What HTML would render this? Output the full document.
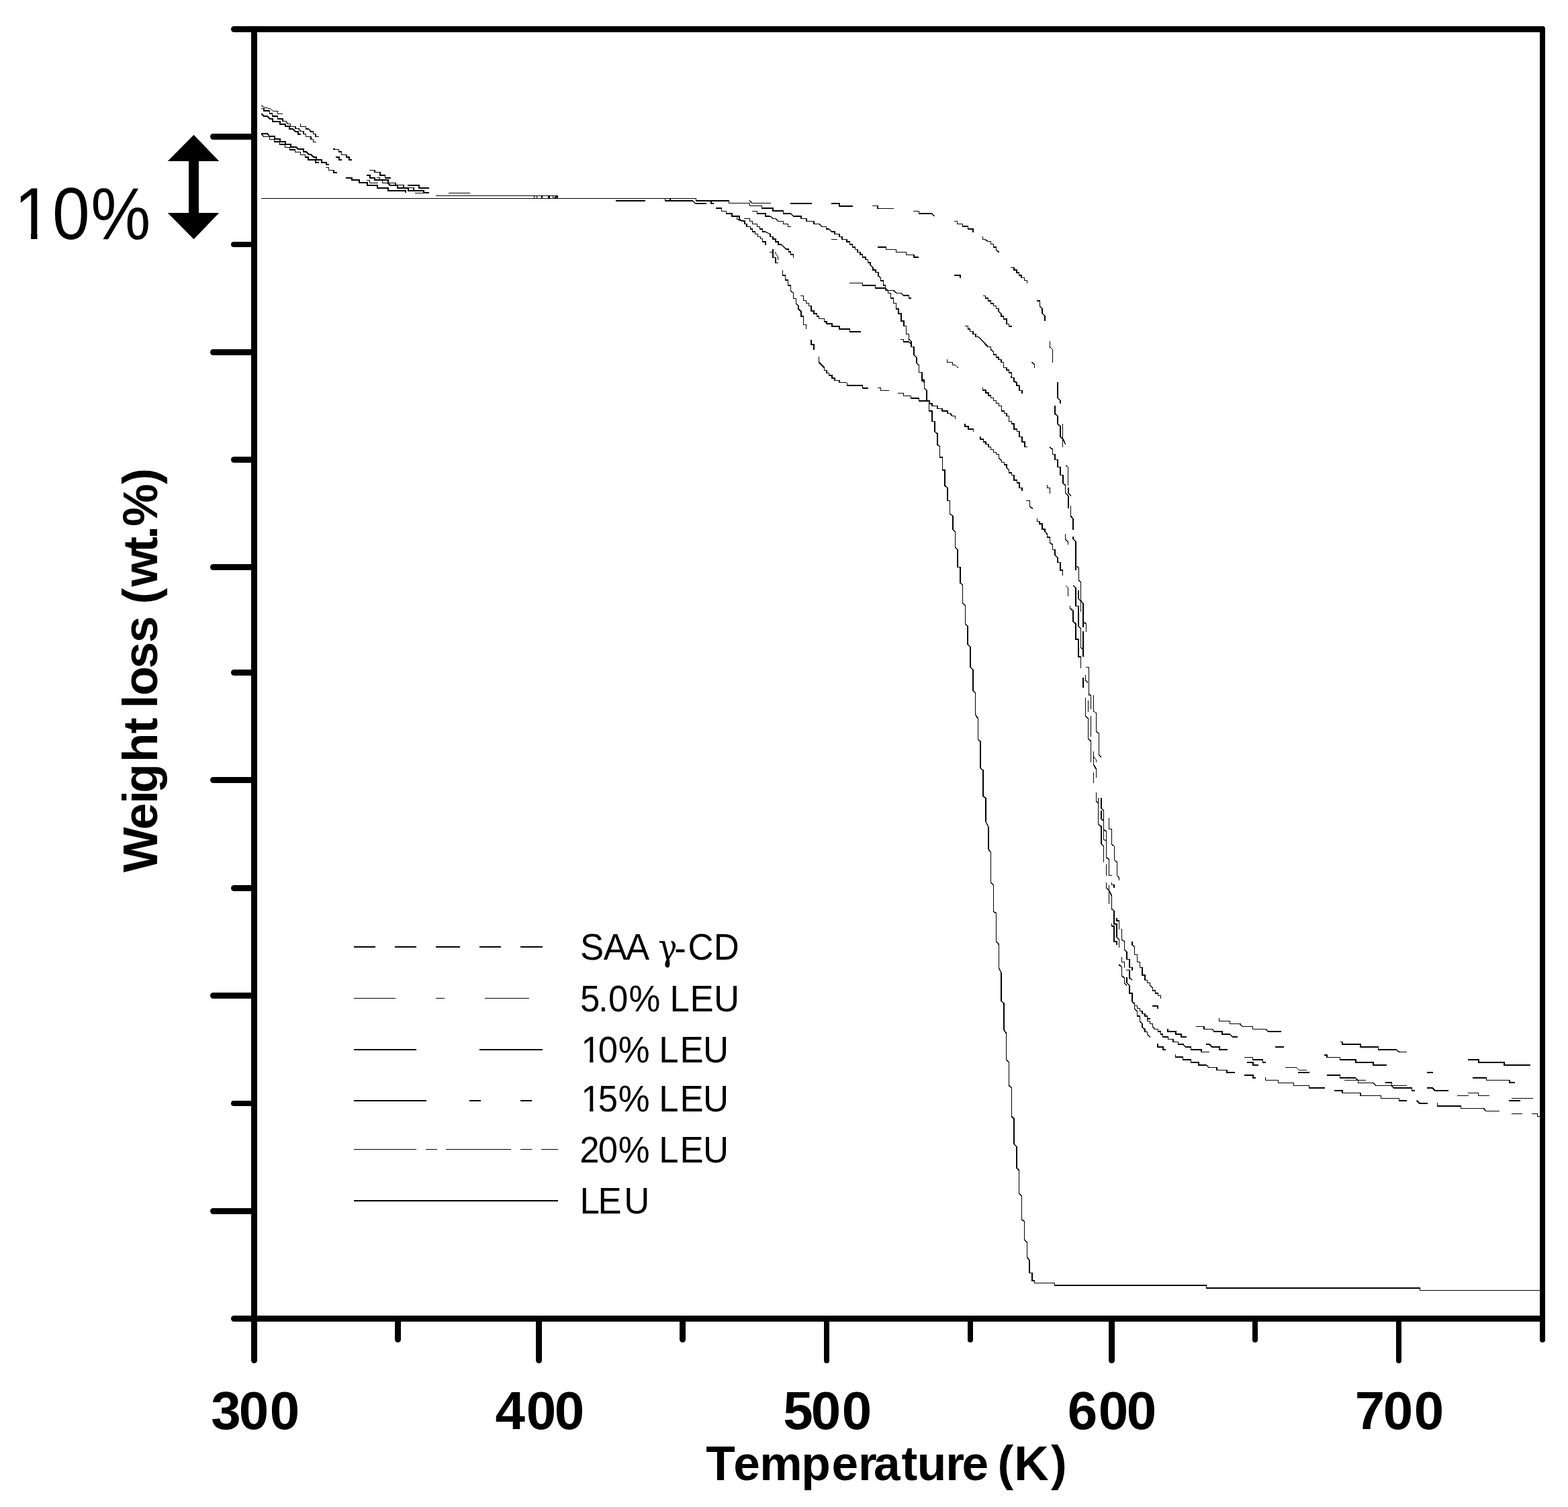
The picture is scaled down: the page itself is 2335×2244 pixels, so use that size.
<!DOCTYPE html>
<html lang="en">
<head>
<meta charset="utf-8">
<title>TGA weight loss curves</title>
<style>
html,body{margin:0;padding:0;background:#fff;}
body{width:2335px;height:2244px;overflow:hidden;}
svg{display:block;}
</style>
</head>
<body>
<svg width="2335" height="2244" viewBox="0 0 2335 2244" role="img" aria-label="Thermogravimetric weight loss curves versus temperature">
<rect width="2335" height="2244" fill="#fff"/>
<g stroke="#000" stroke-linecap="round" fill="none">
<path stroke-width="9" d="M348.5 43.5H2296.5"/>
<path stroke-width="9" d="M348.5 1963.5H2296.5"/>
<path stroke-width="9" d="M378.5 43.5V2025.5"/>
<path stroke-width="8" d="M2297 43V1995"/>
<path stroke-width="9" d="M317.5 203.5H378.5"/>
<path stroke-width="8" d="M348 364H378.5"/>
<path stroke-width="9" d="M317.5 524.5H378.5"/>
<path stroke-width="9" d="M348.5 684.5H378.5"/>
<path stroke-width="9" d="M317.5 844.5H378.5"/>
<path stroke-width="9" d="M348.5 1001.5H378.5"/>
<path stroke-width="9" d="M317.5 1161.5H378.5"/>
<path stroke-width="9" d="M348.5 1322.5H378.5"/>
<path stroke-width="9" d="M317.5 1482.5H378.5"/>
<path stroke-width="8" d="M348 1643H378.5"/>
<path stroke-width="9" d="M317.5 1803.5H378.5"/>
<path stroke-width="9" d="M592.5 1963.5V1994.5"/>
<path stroke-width="9" d="M802.5 1963.5V2025.5"/>
<path stroke-width="9" d="M1016.5 1963.5V1994.5"/>
<path stroke-width="8" d="M1231 1963.5V2026"/>
<path stroke-width="8" d="M1445 1963.5V1995"/>
<path stroke-width="9" d="M1655.5 1963.5V2025.5"/>
<path stroke-width="8" d="M1869 1963.5V1995"/>
<path stroke-width="8" d="M2083 1963.5V2026"/>
</g>
<path d="M288.5 200.8L326.3 240H296V317H326.3L288.5 356.3L249.7 317H281V240H249.7Z" fill="#000"/>
<g font-family="'Liberation Sans', sans-serif" fill="#000">
<text transform="translate(0 356.2) scale(0.9100 1)" x="23.28 85.73 148.73" y="0" font-size="110">10%</text>
<text transform="translate(0 2128.2) scale(1.0100 1)" x="311.22 352.29 397.79" y="0" font-size="79.2" font-weight="bold">300</text>
<text transform="translate(0 2128.2) scale(1.0100 1)" x="730.11 775.96 817.64" y="0" font-size="79.2" font-weight="bold">400</text>
<text transform="translate(0 2128.2) scale(1.0100 1)" x="1154.59 1195.86 1241.40" y="0" font-size="79.2" font-weight="bold">500</text>
<text transform="translate(0 2128.2) scale(1.0100 1)" x="1574.05 1619.62 1661.10" y="0" font-size="79.2" font-weight="bold">600</text>
<text transform="translate(0 2128.2) scale(1.0100 1)" x="1997.77 2039.47 2084.97" y="0" font-size="79.2" font-weight="bold">700</text>
<text transform="translate(0 2204) scale(0.9800 1)" x="1072.68 1114.66 1154.32 1217.61 1263.89 1304.16 1327.52 1369.88 1393.60 1437.07 1461.80 1502.23 1515.71 1541.14 1597.02" y="0" font-size="72.7" font-weight="bold">Temperature (K)</text>
<text transform="translate(234 1299.8) rotate(-90) scale(0.9800 1)" x="0.74 65.63 105.14 121.59 168.28 211.82 236.03 249.99 269.43 310.51 349.89 390.33 408.52 434.92 486.82 507.18 526.71 590.74" y="0" font-size="72.7" font-weight="bold">Weight loss (wt.%)</text>
<text transform="translate(0 1429) scale(0.9550 1)" x="904.80 941.02 975.88 1012.70" y="0" font-size="55.2">SAA </text>
<text transform="translate(980.19 1429.80) scale(0.8820 1)" font-family="'DejaVu Serif', 'Liberation Serif', serif" font-size="53.57">γ</text>
<text transform="translate(0 1430.6) scale(0.9550 1)" x="1051.54" y="0" font-size="55.2">-</text>
<text transform="translate(0 1429) scale(0.9550 1)" x="1072.70 1112.84" y="0" font-size="55.2">CD</text>
<text transform="translate(0 1505.7) scale(0.9550 1)" x="904.65 933.06 948.63 980.69 1029.78 1044.51 1075.85 1113.16" y="0" font-size="55.2">5.0% LEU</text>
<text transform="translate(0 1581.7) scale(0.9550 1)" x="905.95 932.77 964.10 1013.18 1027.60 1060.15 1096.40" y="0" font-size="55.2">10% LEU</text>
<text transform="translate(0 1654.8) scale(0.9550 1)" x="905.95 932.82 964.10 1013.18 1027.60 1060.15 1096.40" y="0" font-size="55.2">15% LEU</text>
<text transform="translate(0 1730.8) scale(0.9550 1)" x="904.02 932.77 964.10 1013.18 1027.60 1060.15 1096.40" y="0" font-size="55.2">20% LEU</text>
<text transform="translate(0 1806.8) scale(0.9550 1)" x="904.24 932.40 972.95" y="0" font-size="55.2">LEU</text>
</g>
<rect x="27.81" y="345.98" width="18.25" height="11.72" fill="#fff"/><rect x="55.50" y="345.98" width="17.46" height="11.72" fill="#fff"/>
<rect x="868.20" y="1575.58" width="9.94" height="7.62" fill="#fff"/><rect x="883.40" y="1575.58" width="9.53" height="7.62" fill="#fff"/>
<rect x="868.20" y="1648.68" width="9.94" height="7.62" fill="#fff"/><rect x="883.40" y="1648.68" width="9.53" height="7.62" fill="#fff"/>
<g stroke="#000" fill="none" shape-rendering="crispEdges">
<path d="M527 1410H559M588 1410H620M649 1410H685M714 1410H746M775 1410H808" stroke-width="2"/>
<path d="M527 1486.5H589M649 1486.5H662M722 1486.5H788" stroke-width="1"/>
<path d="M527 1563H620M714 1563H808" stroke-width="2"/>
<path d="M527 1639H635M699 1639H716M775 1639H792" stroke-width="2"/>
<path d="M527 1711.5H620M634 1711.5H651M664 1711.5H761M775 1711.5H792M806 1711.5H831" stroke-width="1"/>
<path d="M527 1788H831" stroke-width="2"/>
</g>
<g fill="none" stroke="#000" stroke-linecap="butt" stroke-linejoin="miter" shape-rendering="crispEdges">
<path stroke-width="1" d="M389 157.2L394.7 160.5L402 161.3L406.1 165H413.5V169.5H420.8M545.9 268.4H550.5V272.4H562.8M618.4 287.4H638.8M649 291.5H831M795.5 291V296M799.5 291V296M823.5 291V296M668 287.5H700M990.5 295V300M1145.9 375.5H1151M1154.1 375.5L1158.8 383.3V387.3M1238.2 356.3H1246.9M1410.4 535.1V539.6H1418.2V543.3H1422.2L1426.7 547.3M1536.5 539.2L1540.6 543.3V547.8M1582.7 631V665.5M1586.7 692.7L1590.8 695.7V723.3M1559.6 722.2V726.3H1563.3V734.5M1586.3 795.1V802.9L1590.4 806.9V810.6M1602 842.1L1606 845.3V863.6L1609.6 867.3V910.6M1586.6 871.6L1590.5 875.2V887.5M1628.8 1034.8V1059.5L1632.7 1061.8V1080M1624.3 1065.8V1080M1624.6 1070V1097.1M1628.6 1127.3L1632.5 1131.3V1135.3M1628.6 1150.4V1166.3M1651.7 1218.1V1234H1655.6V1257.1L1659.1 1260.3V1280.2L1663.1 1283.4V1303.3L1666.8 1307.3V1311.2M1647.7 1287.4V1303.8M1651.7 1318.4V1345.5M1670.5 1425.2V1432.4H1674.6V1440.6M1884.3 1604.3V1608.8H1903.4V1612.6H1920M1914.3 1589.4H1930.6L1934.3 1593.5H1945.9M2002 1608.6H2033.7M2170.4 1631.6H2186.7M2186.3 1627.6H2201.6V1631.6H2217.8M2251 1635.3H2283.1M2251 1658.6H2266.9M2281.2 1658.6H2289.8V1662.2H2292.9"/>
<path stroke-width="1.2" d="M1563.5 508.2V516.7L1567.6 520.4V539.6M1307.1 577.3H1311.2V581.4H1323.9M1918.4 1612.7H1926.5V1616.3H1949.6V1620H1972.9"/>
<path stroke-width="1.5" d="M389 161.3H393.1V165H401.6V169.1H405.7V173.2H413.5V176.8H420.8V180.5H425.7L429 184.6H432.7V188.3H440V191.5H444.5L448.2 195.6H451.8V199.3H455.5V203.4H462.9V207.4H466.5V211.5H471M447.3 184.2V188.3H455.5V191.9H459.2L462.9 196H466.5V199.7H470.2V203.4H474.7M389 199.3L393.1 203.4H401.6V207.4H408.6V211.1H416.7V215.2H424.5V219.3H431.4V223H439.6V226.6H447.3V230.3H454.3V234H458.8V238.1H469.8V242.1H474.7M485.3 249.5H489.4V253.6H497.1V257.2H501.6M495.9 222.1L504.5 222.6V226.2H508.6V230.3H515.9V234H520V238.1H523.7M550 253.3H558.2V256.6H565.8V260.9H573.7V265H581.6M561.2 264.5H565.3V268.1H569.4V272.4H588.8V275.7H601V279.3H615.8V282.9M1066.3 310.2H1074.5V314.3H1081.6V318H1089.8V322H1101V326.1L1105.1 329.2H1109.2V333.3H1112.2V337.3H1117.3V341H1120.4V345.1H1124.5V348.6H1128.6V352.7H1132.7V355.7H1135.7V359.8H1139.8V364.9M1097.6 322V326.1L1105.1 329.2M1108.2 325.5H1116.3V329.6H1120.4V333.3H1127.6V337.3H1131.6V341H1135.7V345.1H1139.8L1146.9 348.6V352.7H1151V356.1H1155.1V359.8H1159.2V363.9H1163.3L1170.4 371H1174.5V375.1H1177.6V379.2H1181.6V383.9M1120.4 314.3H1127.6V318H1139.8V322H1146.9L1151 325.5H1155.1L1159.2 329.6H1166.3V333.3H1173.5V337.3H1177.6M1116.3 298.6L1120.4 302.7H1148M1299 306.7H1307.1V310.4H1330.6M1360.2 314.5H1368.4V318H1387.8L1391.4 322M1151 371.4V383.3H1155.1V391.4H1158.8M1165.7 401.6V409.8H1169.4V416.9H1173.5V425.1H1177.6V433.3L1181.6 436.3V444.5H1185.7V452.2L1188.8 455.7V459.8L1192.9 463.9V471H1196.5V483.3H1200.6V490.4M1192.2 440.4H1196.5V447.6H1200.6V451.6H1204.7V455.7H1208.2V462.9H1212.2V466.9H1216.3V471H1219.4V474.7H1227.6V478.8H1231.2V482.2H1238.8V485.9H1250V490H1265.3V493.9H1281.6M1219.4 531.2V539.4L1223.5 543.5L1227.6 547.6V551.6H1231.2V555.3H1234.7V558.8H1238.8V562.9H1242.9V566.3H1250V569.6H1261.2M1307.1 368H1319.4V371.4H1334.7V375.5H1349.4V379.6H1360.8V382.9H1368.4M1265.3 421.4H1284.3V425.1H1303.7V428.8H1318.4L1322.4 432.7H1330.6L1334.7 436.3H1341.8L1345.5 440H1353.7V443.9H1357.1M1341.2 505.7H1345.5V508.8H1353.1L1357.1 512.9M1421.2 329.4H1425.3V333.5H1433.5V337.1H1441.6V340.8H1449.2V345.7M1463.5 352V356.5H1467.1L1471.2 359.6H1475.3V363.7H1479.4V367.8H1483.5V371.8L1487.6 375.5M1505.3 398.4H1510V402H1514.1V405.9H1517.6V410H1521.2V413.7H1525.3V417.3H1529.4V421.8M1544.3 447.8H1548.4V455.5L1551.8 459.2V466.7L1555.9 470.8V478.4M1463.5 440.6H1467.6V443.9H1471.6V448H1475.7V452H1479.4V455.5H1483.5V459.6H1486.9V463.7L1491 467.3V471.2H1494.7V474.9H1498.8V482.4H1502.4V486.1H1506.9M1437.1 485.7H1441.6V489.8H1444.7V493.7H1448.8V497.3H1452.9V501.4H1456.9L1471.2 516.3H1475.3V520.4L1479.4 523.9V528H1483.5V532H1486.9V535.5H1491V539.6H1494.7V547.3H1498.8V551H1502.4V554.9H1506.3V562.7H1510V566.7L1514.1 569.8V573.9H1517.6V580M1261.6 569.8V573.9H1284.7V578H1292.9M1337.1 585.5H1345.3V589.6H1356.7V593.1H1368.4V597.1H1384.7V600.8H1388.2V604.5H1395.9V608.6H1403.1V612H1410.8V615.5H1414.7L1418.4 619.6H1422.4V623.7M1437.1 631.4V634.9H1441.8V639H1449.4V642.7M1460.2 650.4V653.9H1464.3V658H1468V661.4H1472V665.5H1475.5V669.6H1479.6V673.3H1483.7V676.7H1487.3V681.4L1491.4 685.5V688.6H1495.3V692.2H1499V696.3L1502.7 699.8V703.9H1506.7V707.6H1510.2V715.1H1514.3V718.8H1518V726.3H1521.8V730.8M1463.3 577.3V581H1468V585.1H1472V589.2H1475.5V592.7H1479.6V596.7H1483.7V600.4H1487.3V604.3H1491.4V612H1495.3V615.5H1499V619.6H1502.7V627.3H1506.7V631H1510.2V639H1514.3V642.7H1518V650.4H1521.8V658H1525.9V665.5H1530M1505.5 560V562.4H1510.2V568.2L1514.3 570.2V574.3H1518V581.4H1521.8V585.9M1575.1 569.2V592.7L1579.2 596.7V600.8M1571 604.3V616.1L1575.1 619.6V631.4L1579.2 634.9V650.4L1583.1 653.9L1586.7 662M1563.3 665.5L1567.3 669.2V676.7H1571V684.5H1575.1V695.7H1579.2V707.6H1583.1V719.2L1586.7 722.7V734.5L1590.8 738V757.3M1590.8 726.3V734.5L1594.9 738.6M1528.2 745.7H1533.7V753.9L1537.8 757.6M1544.5 772.2V776.3H1548V780H1552V788.2H1556.1V791.6L1559.6 795.7V799.8H1563.3V808L1567.3 811V818.6H1571V826.3L1575.1 830.4V837.6H1579.2V848.8H1582.7V856.9M1594.3 752.9V768.2L1598 772.2V788.6M1598 799.1V802.3L1602 806.3V849.3M1598 871.6L1602 875.2V902.3H1606V932.9L1609.6 936.1V963.9L1613.2 967.1M1606 879V891.5L1609.6 894.6L1613.2 898.6V933.7M1613.2 926.5L1617.5 928.9V940.5M1593.7 902.3V905.8L1598 909.8V925.2L1602 928.9V952H1606V978.2H1609.6V994.5M1613.2 940V978.2M1616.7 993.4H1621.4V1036.4M1616.7 1004.5V1013.3L1620.3 1016.5M1612.8 1009.3V1024.4M1621.4 1033.2L1624.3 1035.6V1056.3M1616.7 1039.2V1065.8L1620.6 1069.8V1080M1620.6 1042.7V1059.5M1620.6 1070V1100.3L1624.6 1103.4V1135.3M1632.5 1070V1089.1L1636.5 1092.3V1124.1L1640.2 1127.3M1628.6 1119.4V1138.5L1632.5 1145.6V1158.4M1632.5 1179.9V1192.6L1635.7 1195.8V1227.6L1640.2 1230.8V1257.1L1643.7 1260.3V1284.2M1640.2 1188.2V1203.8L1643.7 1206.9V1235.6L1647.7 1238V1277L1651.7 1280.2V1303.3H1655.6M1635.7 1188.2V1195.8M1640.2 1206.9V1219.7L1643.7 1222.1M1643.7 1235.6V1249.9L1647.7 1252.3M1647.7 1313.6V1322.4L1651.7 1326.4L1655.6 1334.3V1353.4L1659.1 1356.6V1370M1655.6 1313.6V1317.6H1659.1V1322.4M1655.4 1340V1353.5L1659 1356.7V1375.8H1663V1395.7L1666.5 1398.9V1410.9M1663 1367.1V1371.1H1666.5V1383.8M1655.4 1375.4V1379H1659V1402.1H1663V1406.9M1670.5 1383V1398.9L1674.6 1402.1V1414.5L1678.1 1417.7V1428.4H1682.1V1440.3H1686.1V1444.8M1685.8 1402.1V1406.9L1689.6 1410.1V1421.5H1693.6V1432.4H1697.5V1440.3H1701.2V1451.9H1705.2V1459.7H1708.7V1463.4H1712.7V1467.4L1716.3 1470.9V1474.9H1720.3V1478.9H1724.3V1482.5H1728.3V1486.8M1666.2 1436.3L1670.5 1440.3V1453.1L1674.6 1456.2V1464.2L1678.1 1467.4M1677.3 1444.3H1682.1V1456.2L1686.1 1459.7M1678.1 1455V1463.4L1682.1 1467.4V1478.9H1686.1V1491.3L1689.6 1494.5V1502.4L1693.6 1505.6V1513.1H1697.5V1521.5L1701.2 1524.7V1529.5L1705.2 1533V1536.7H1708.7V1540.6L1712.7 1544.3M1689.6 1497.6H1693.6V1501.6H1697.5V1505.3H1701.2V1509.3H1705.2V1513.1H1708.7V1516.8H1712.7M1708.7 1516.8V1520.7H1712.7V1524.7H1716.3V1528.7L1719.5 1532.4H1724.3V1536.2H1728.3V1540.2H1731.5V1543.8H1739.4V1547.5H1746.9V1551.5H1754.6V1555H1762L1765.7 1558.9H1773.7V1562.9H1789.1V1566.4H1800.7M1750.6 1570.1V1574.1H1761.7V1578.1H1773.7V1582H1785.1V1586H1796.8L1800.4 1589.5H1811.9V1593.5H1827V1597.2H1838.9M1781.1 1528.4H1792.8V1532.4H1804.7L1807.9 1535.9H1819.8V1540.2H1831.3L1835 1543.8H1842.6M1815.5 1516V1520.7H1831.3V1524.4H1846.4L1850.1 1528.4H1865.5V1532.4H1884.6L1888.3 1535.9H1907.9M1853.3 1574.4H1865.5V1578.1H1880.7V1582H1885.1M1995.5 1551.4H1999V1555.1H2026.1V1559.2H2052.7V1562.9H2079.6L2083.3 1566.3H2094.9M1972.4 1570.8H1975.9V1574.5H1995.5V1578.2H2018.8V1582.2H2044.9V1586.1H2064.9M1975.5 1601H1995.5V1605.1H2018.8L2022.4 1608.6V1612.7H2045.3L2049 1616.3H2094.9M2063.3 1612.2H2072.4V1616.3L2075.5 1620H2102.7V1624.1H2106.7M1987.3 1623.9H1999V1627.6H2026.1V1631.6H2056.7V1635.3H2083.3V1639.2H2094.9M2140.4 1642.4V1646.9H2175.5V1650.6H2209.6L2213.3 1654.5H2232.7M2193.3 1605.1H2213.3V1608.6H2248V1612.2H2256.1"/>
<path stroke-width="2" d="M389 169.5L393.5 173.2H398.4L401.6 176.8H405.7V180.9H416.7V184.6H424.5V188.3H431.4V191.9H436.3L439.6 196H443.7V200.1H447.8M389 199.3H398.8L401.6 203.4H409.4V207.4H416.7V211.1H424.5V214.8H432.7V218.5H440.4L444.1 222.1H451.8V226.2H456.3L460 230.3H463.3L466.9 233.6H470.6V237.7H478.8V241.7H485.7V245.4H489.8M500 233.6H504.5V238.1H508.6M515.3 264.5H523.5V268.1H535.2V272.4H546.9V275.9H562.2V279.8H577.6V283.9H604.1V287.4M545.9 260.9H550.5V265H558.2V268.1H577.6V272.7L580.6 275.9H592.3V280.3H607.7V284.1H630.6V287.4H638.8M607.1 275.7H623.5V280H638.8M807 291V296M825 295.5L829.5 291.5M830 291V296M917 299H961M990 299H1031.5L1035.5 303H1052M998 295V299M1059 300V303H1063M1177.1 302.7H1208.6M1238.2 302.7H1250V307.1H1269.8M1207.8 505.7V512.9H1212.2V520.6M1421.2 409.6H1430.4V413.7M1716.3 1497.6H1724.3V1502.4M1739.4 1532.4V1535.9H1750.9V1539.8H1758.5V1543.8H1766.5M1723.5 1554.2V1558.9H1731.5V1562.9H1735.8M1796 1555H1800.7L1804.7 1558.9H1815.9V1562.9H1827.8M1899 1558.9H1911.9M1857.3 1582H1865.5V1586H1874M1853.3 1601.1H1865.5V1605.1H1870M1933.3 1596.9H1950M2109.6 1638.8L2113.7 1642.9H2125.5M2124.5 1596.9H2133.7M2124.5 1620H2133.1L2136.7 1623.9H2156.7M2186.3 1578.2H2201.6V1582.2H2240.2V1586.1H2279M2247.3 1639.2H2263.9"/>
<path stroke-width="3" d="M817.5 291V296"/>
<path stroke-width="1.5" d="M1085.7 298.6V302.7H1116.3V306.7H1134.7V310.2H1151V313.9H1166.3V318H1177.6L1181.6 322H1192.9V325.5H1201V329.6H1212.2V333.3H1219.4L1223.5 337.3H1230.6V341H1234.7L1238.8 345.1H1242.9V348.6H1250V352.7H1254.1V356.7H1261.2V359.8H1265.3V363.9H1269.4V368H1273.5V371.4H1277.1V375.5H1281.2V379.2H1284.7V382.9H1288.8V386.7H1292.4V390.8H1295.9V394.5L1300 398.6V402.2H1304.1V405.7H1307.8V410.8L1311.6 413.9V418H1315.3V425.1H1318.4V432.7H1322.4V436.3H1326.5V443.9H1330.6V451.6H1334.7V459.8H1337.8V466.9H1342.2V478.2H1345.9V485.7H1349.6V497.6H1353.7V505.7L1357.1 508.8V516.3H1361.2V528.2L1364.9 532.2V540.4L1368.4 543.5V554.7H1373.1V566.9H1376.5V570L1372.4 562V566.1H1376.5V578.4L1380.2 581.4V596.7H1383.7V612H1387.8V627.3H1391.8V642.7L1395.9 645.7V662L1399.4 665.1V680.8H1403.5V699.8H1407.1V723.3L1410.8 726.3V745.7H1414.7V765.1L1418.8 768.2V788.2L1422.4 791.6V814.7L1426.1 818.2V844.7H1430.2V860L1430.1 861.7V868.1L1433.6 871V898.2L1437.4 902V928.8L1441.2 932.6V959.5L1445 963.3V993.6L1448.8 997.4V1028.7L1452.6 1032.5V1063.7L1456.4 1070.4V1101.1L1460.1 1104V1143.4L1463.9 1146.9V1185.2L1468 1188.7V1223.7L1471.8 1231V1264.6L1475.6 1269V1314.2L1479.4 1318V1356.6L1483.5 1360.4V1400.1V1401.9L1487.3 1406.3V1441.3L1491.1 1448.6V1490.9L1494.9 1493.9V1533.3L1498.7 1539.1V1578.5L1502.5 1582.3V1616.5L1506.3 1620V1662.3L1510.1 1666.1V1703.5L1513.9 1707.6V1739.1L1517.7 1742.6V1777.1L1521.5 1780.6V1815.9L1525.5 1818.8V1845.7L1529.3 1849.5V1872L1533.1 1876.4V1895.3H1536.9V1907H1540.7V1910.8"/>
<path stroke-width="1" d="M389 295.5H1037M1540 1910.5H1571"/>
<path stroke-width="2" d="M1036 299H1086M1570 1914H1797M1796 1918H2115"/>
<path stroke-width="1" d="M1036.5 295V300M1570.5 1910V1915M1796.5 1913V1919M2114.5 1917V1922M2114 1921.5H2293"/>
</g>
</svg>
</body>
</html>
